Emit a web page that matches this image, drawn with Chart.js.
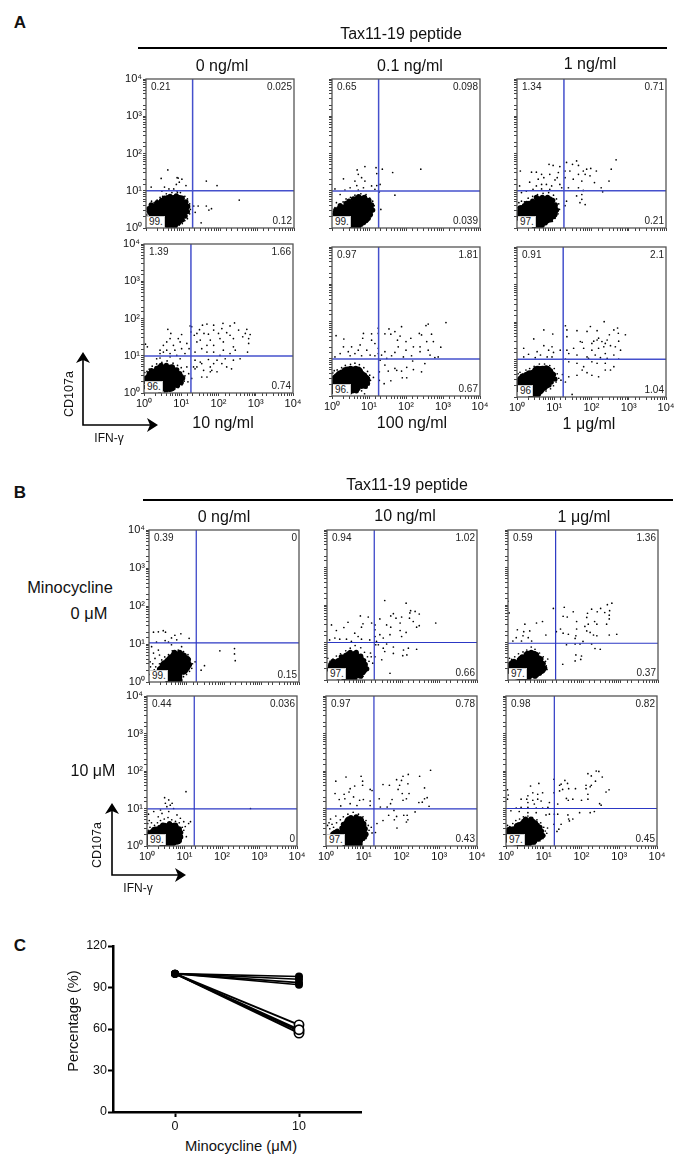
<!DOCTYPE html>
<html>
<head>
<meta charset="utf-8">
<title>CD107a / IFN-γ</title>
<script src="https://cdn.jsdelivr.net/npm/chart.js@4/dist/chart.umd.js"></script>
<style>
  html, body { margin: 0; background: #fff; }
  #page { position: relative; width: 685px; height: 1166px; overflow: hidden; font-family: "Liberation Sans", Arial, sans-serif; color: #111; }
  #page canvas { position: absolute; }
  .t { position: absolute; white-space: nowrap; line-height: 1; }
  .q { position: absolute; white-space: nowrap; font-size: 10px; line-height: 1; color: #222; }
  .ll { background: #fff; padding: 0 1px 0 2px; border: 1px solid #ccc; border-left: 0; border-bottom: 0; }
  .rule { position: absolute; height: 2px; background: #000; }
</style>
</head>
<body>
<div id="page"></div>
<script>
// ---- Data ----
// events are [IFN-g, CD107a] in decades (log10), read off the 10^0..10^4 axes
// xxxCore = solid part of the main population, xxxEdge = its rough rim, xxxDots = single visible events
const a1Core = [[.6,.12],[.75,.12],[.45,.25],[.6,.25],[.75,.25],[.9,.25],[.2,.38],[.35,.38],[.5,.38],[.65,.38],[.8,.38],[.95,.38],[.18,.5],[.3,.5],[.45,.5],[.6,.5],[.75,.5],[.9,.5],[1.02,.5],[.4,.62],[.55,.62],[.7,.62],[.85,.62],[1,.62],[.6,.75],[.75,.75],[.9,.75]];
const a1Edge = [[.1,.42],[.08,.52],[.14,.62],[.24,.6],[.3,.68],[.42,.74],[.5,.8],[.65,.85],[.82,.86],[.98,.8],[1.08,.7],[1.13,.58],[1.12,.44],[1.06,.32],[.98,.22],[.88,.14],[.33,.26],[.2,.28],[.5,.14],[.65,.03],[.78,.04]];
const a1Dots = [[.59,1.56],[.41,1.33],[.84,1.35],[.87,1.34],[.97,1.31],[.9,1.23],[.82,1.17],[1.08,1.14],[.14,1.1],[.5,1.1],[.62,1.05],[.75,1.05],[1.63,1.26],[1.92,1.14],[2.52,.75],[1.63,.59],[1.77,.52],[1.7,.48],[1.29,.59],[1.41,.59],[1.33,.42],[1.49,.14],[.84,.99],[.93,.95],[.43,.99],
  [.05,.3],[.08,.5],[.03,.45],[.1,.62],[.15,.72],[.06,.18],[.12,.24],[.02,.35],[.22,.68],[.3,.75],[.38,.82],[.45,.85],[.55,.92],[.7,.95],[.85,.95],[1.05,.85],[1.12,.78],[1.18,.65],[1.2,.5],[1.18,.38],[1.12,.25],[1.05,.2],[.98,.12],[.9,.08],[.35,.15],[.3,.22],[.42,.06]];

const a2Core = [[.55,.12],[.7,.12],[.3,.25],[.45,.25],[.6,.25],[.75,.25],[.88,.25],[.18,.38],[.32,.38],[.47,.38],[.62,.38],[.77,.38],[.92,.38],[.3,.5],[.45,.5],[.6,.5],[.75,.5],[.9,.5],[1,.5],[.5,.62],[.65,.62],[.8,.62],[.95,.62],[.7,.74],[.85,.74]];
const a2Edge = [[.08,.38],[.1,.48],[.18,.52],[.22,.6],[.38,.66],[.46,.72],[.58,.78],[.72,.84],[.88,.82],[1,.74],[1.07,.62],[1.1,.48],[1.04,.36],[.98,.26],[.84,.14],[.42,.14],[.22,.2],[.6,.04],[.72,.05]];
const a2Dots = [[.89,1.65],[.68,1.56],[.71,1.44],[1.19,1.62],[1.36,1.58],[1.21,1.46],[1.64,1.49],[2.4,1.58],[.31,1.32],[.8,1.35],[.89,1.26],[.62,1.26],[1.3,1.17],[1.21,1.14],[1.07,1.13],[.67,1.14],[.85,1.08],[.49,1.08],[.08,1.05],[.35,1.02],[.71,1.02],[1.28,.97],[1.7,.88],[1.32,.5],[.22,.9],[1.16,1.04],
  [.04,.45],[.03,.32],[.08,.55],[.12,.68],[.2,.62],[.3,.7],[.38,.78],[.5,.82],[.62,.88],[.78,.92],[.92,.9],[1.02,.8],[1.1,.72],[1.14,.6],[1.12,.45],[1.05,.3],[.98,.2],[.9,.12],[.82,.06],[.14,.2],[.08,.14],[.24,.14]];

const a3Core = [[.5,.1],[.62,.1],[.22,.24],[.36,.24],[.5,.24],[.64,.24],[.78,.24],[.1,.36],[.24,.36],[.38,.36],[.52,.36],[.66,.36],[.8,.36],[.94,.36],[.14,.48],[.28,.48],[.42,.48],[.56,.48],[.7,.48],[.84,.48],[.98,.48],[.34,.6],[.48,.6],[.62,.6],[.76,.6],[.9,.6],[.6,.72],[.74,.72],[.86,.72]];
const a3Edge = [[.04,.42],[.04,.32],[.08,.54],[.2,.6],[.26,.66],[.42,.72],[.52,.82],[.68,.82],[.82,.82],[.96,.74],[1.03,.62],[1.06,.48],[1.02,.36],[.9,.22],[.76,.14],[.14,.24],[.36,.14],[.5,.03],[.62,.03]];
const a3Dots = [[2.66,1.83],[1.6,1.8],[1.33,1.76],[2.53,1.58],[1.98,1.6],[1.87,1.58],[1.78,1.53],[2.13,1.53],[1.49,1.71],[1.65,1.68],[1.42,1.53],[1.29,1.53],[1.83,1.44],[1.65,1.44],[1.96,1.4],[1.51,1.31],[2.47,1.26],[2.08,1.22],[1.74,1.26],[1.29,1.35],[2.26,1.08],[2.3,.97],[1.78,1.01],[1.65,1.08],[1.38,1.08],[1.6,.86],[1.74,.9],[1.74,.77],[1.69,.68],[1.83,.63],[1.33,.72],[1.29,.6],
  [.86,1.71],[.97,1.68],[1.15,1.65],[.09,1.53],[.39,1.5],[.52,1.5],[.66,1.44],[.72,1.35],[.88,1.44],[1.11,1.49],[1.08,1.35],[.34,1.23],[.52,1.13],[.66,1.17],[.07,1.13],[.79,1.17],[.93,1.13],[1.15,1.17],[1.2,1.08],[.43,1.04],[.66,1.05],[.88,1.04],[.25,.99],[.12,.95],[.57,1.31],[1.02,1.29],
  [.02,.55],[.05,.68],[.12,.72],[.2,.7],[.3,.8],[.42,.85],[.55,.9],[.7,.93],[.85,.95],[.98,.88],[1.06,.78],[1.12,.65],[1.14,.5],[1.1,.38],[1.02,.26],[.95,.18],[.78,.1],[.4,.06],[.02,.22],[.06,.12]];

const a4Core = [[.32,.16],[.45,.16],[.58,.16],[.71,.16],[.16,.28],[.3,.28],[.44,.28],[.58,.28],[.72,.28],[.86,.28],[.16,.4],[.3,.4],[.44,.4],[.58,.4],[.72,.4],[.86,.4],[.95,.4],[.26,.52],[.4,.52],[.54,.52],[.68,.52],[.82,.52],[.44,.63],[.58,.63],[.72,.63]];
const a4Edge = [[.05,.3],[.06,.4],[.14,.52],[.2,.6],[.34,.66],[.46,.74],[.6,.74],[.76,.7],[.88,.62],[.96,.52],[1.04,.4],[1,.28],[.9,.2],[.78,.14],[.2,.18],[.1,.22],[.42,.08],[.6,.08],[.05,.16]];
const a4Dots = [[1.49,1.7],[1.57,1.82],[1.69,1.85],[1.87,1.82],[2.12,1.87],[2.43,1.88],[2.31,1.8],[2.09,1.73],[1.87,1.69],[1.61,1.6],[1.42,1.6],[1.35,1.55],[1.73,1.58],[2,1.6],[2.22,1.62],[2.54,1.69],[2.76,1.71],[2.85,1.57],[2.72,1.6],[2.65,1.51],[2.81,1.46],[2.4,1.46],[2.31,1.55],[2.04,1.46],[1.78,1.42],[1.51,1.42],[1.42,1.37],[1.28,1.78],[1.24,1.8],[1.26,1.64],[1.69,1.28],[1.87,1.28],[2.13,1.37],[2.4,1.24],[2.81,1.33],[2.78,1.1],[2.45,1.15],[2.13,1.15],[1.87,1.1],[1.55,1.19],[1.37,1.1],[1.69,1.1],[2.04,1.01],[2.31,1.06],
  [1.37,.88],[1.51,.83],[1.73,.9],[1.96,.88],[2.18,.92],[2.4,.88],[2.58,.92],[1.42,.7],[1.55,.79],[1.78,.7],[2.09,.79],[2.22,.7],[2.35,.65],[1.87,.79],[1.6,.61],[1.33,.7],[1.37,.65],[1.78,.57],[1.55,.43],[1.69,.43],[1.96,.57],[1.82,.61],[1.28,.39],[1.15,.7],
  [.64,1.71],[.72,1.6],[.7,1.46],[.61,1.37],[.52,1.28],[.43,1.15],[.52,1.1],[.79,1.28],[.92,1.46],[1.01,1.57],[.97,1.37],[.83,1.15],[1.01,1.19],[1.15,1.33],[1.21,1.19],[.04,1.31],[.09,1.24],[.43,1.06],[.61,1.15],[.7,1.06],[.88,1.01],[1.1,1.06],[.43,.94],[.7,.97],[.97,.92],[.34,.92],
  [.03,.3],[.05,.42],[.02,.55],[.08,.58],[.14,.64],[.22,.72],[.34,.78],[.48,.82],[.62,.86],[.78,.8],[.9,.74],[1,.68],[1.06,.58],[1.1,.46],[1.08,.32],[1.02,.22],[.92,.15],[.82,.1],[.68,.05],[.55,.03],[1.2,.52],[1.18,.3]];

const a5Core = [[.14,.2],[.28,.2],[.42,.2],[.56,.2],[.1,.32],[.24,.32],[.38,.32],[.52,.32],[.66,.32],[.8,.32],[.1,.44],[.24,.44],[.38,.44],[.52,.44],[.66,.44],[.8,.44],[.9,.44],[.22,.55],[.36,.55],[.5,.55],[.64,.55],[.78,.55],[.42,.66],[.56,.66],[.7,.66]];
const a5Edge = [[.04,.2],[.03,.34],[.03,.46],[.12,.54],[.26,.64],[.34,.7],[.5,.74],[.64,.74],[.76,.66],[.88,.56],[.96,.46],[.96,.34],[.9,.26],[.7,.2],[.66,.14],[.34,.12],[.48,.11],[.04,.12]];
const a5Dots = [[3.08,1.97],[2.6,1.93],[2.54,1.89],[1.88,1.86],[1.54,1.8],[1.25,1.82],[1.25,1.68],[1.43,1.67],[1.59,1.66],[1.7,1.73],[1.84,1.61],[1.77,1.5],[2,1.46],[2.13,1.55],[2.36,1.68],[2.42,1.64],[2.69,1.66],[2.56,1.46],[2.74,1.46],[2.94,1.31],[2.38,1.32],[2.2,1.32],[1.79,1.32],[2,1.23],[1.43,1.19],[1.7,1.17],[2.38,1.19],[2.6,1.23],[2.87,1.05],[2.65,1.1],[2.15,1.08],[1.93,1.05],[1.61,1.08],[1.34,1.1],[1.25,1.28],[1.25,1.14],
  [1.3,.96],[1.48,1.01],[2.18,.94],[2.51,.87],[2.78,1.03],[1.52,.67],[1.75,.69],[1.88,.67],[2.02,.77],[2.2,.71],[2.42,.65],[1.9,.49],[2.02,.49],[1.59,.41],[1.41,.33],[1.28,.65],[1.28,.42],[1.43,.83],[1.7,.74],
  [.11,1.62],[.85,1.68],[1.07,1.67],[.83,1.55],[.32,1.53],[1.07,1.5],[1.16,1.41],[.76,1.37],[.53,1.32],[.31,1.32],[.71,1.23],[.44,1.19],[.94,1.23],[.22,1.14],[.62,1.14],[1.03,1.1],[.49,1.08],[.8,1.08],[.08,1.05],[1.16,1.08],
  [.02,.62],[.06,.68],[.14,.7],[.26,.76],[.36,.82],[.5,.85],[.62,.88],[.74,.84],[.86,.76],[.96,.66],[1.02,.56],[1.04,.42],[1,.3],[.94,.22],[.8,.14],[.66,.12],[.5,.06],[1.12,.5],[.88,.06],[.02,.3]];

const a6Core = [[.4,.1],[.52,.1],[.2,.22],[.34,.22],[.48,.22],[.62,.22],[.06,.32],[.2,.34],[.34,.34],[.48,.34],[.62,.34],[.76,.34],[.14,.46],[.28,.46],[.42,.46],[.56,.46],[.7,.46],[.84,.46],[.34,.58],[.48,.58],[.62,.58],[.76,.58],[.9,.58],[.55,.7],[.69,.7],[.8,.7]];
const a6Edge = [[.03,.3],[.05,.42],[.14,.56],[.24,.6],[.42,.66],[.48,.72],[.64,.76],[.78,.78],[.9,.7],[.98,.6],[1.02,.48],[.92,.4],[.86,.32],[.74,.24],[.62,.14],[.28,.12],[.44,.04],[.52,.03],[.02,.2]];
const a6Dots = [[1.3,1.9],[1.34,1.79],[1.97,1.88],[2.34,2.01],[2.7,1.84],[2.6,1.79],[2.72,1.7],[2.91,1.66],[2.15,1.77],[1.88,1.75],[1.61,1.77],[1.34,1.61],[1.7,1.48],[2.01,1.43],[2.15,1.52],[2.28,1.48],[2.42,1.52],[2.33,1.34],[2.51,1.37],[2.64,1.34],[2.73,1.49],[2.19,1.3],[2.01,1.25],[1.79,1.3],[1.52,1.3],[1.34,1.25],[1.39,1.16],[1.61,1.12],[1.88,1.07],[2.1,1.12],[2.37,1.16],[2.6,1.12],[2.78,1.25],[2.42,1.03],[2.24,1.05],[2.73,1.01],[2.19,1.57],[2.37,1.43],[2.06,1.49],[2.48,1.66],[1.75,1.46],
  [1.39,.94],[1.61,.9],[1.92,1.03],[2.01,.94],[2.15,.9],[2.37,.9],[2.6,.81],[2.51,.72],[1.79,.81],[1.75,.72],[1.88,.65],[2.01,.58],[2.19,.54],[2.37,.72],[1.61,.58],[1.39,.54],[1.3,.4],[1.48,.07],[1.3,1.01],
  [.72,1.79],[.96,1.68],[.18,1.3],[.45,1.55],[.72,1.37],[.94,1.34],[.85,1.25],[.54,1.21],[.31,1.14],[.98,1.19],[1.16,1.25],[.63,1.12],[.81,1.07],[.18,1.07],[.49,1.05],[.94,1.07],
  [.02,.5],[.03,.62],[.08,.66],[.16,.62],[.24,.72],[.34,.76],[.46,.82],[.6,.88],[.74,.88],[.88,.84],[1,.76],[1.08,.62],[1.12,.5],[1.05,.4],[.98,.3],[.9,.22],[.78,.16],[.66,.1],[.6,.04],[.3,.08],[.04,.2],[.12,.12],[1.18,.45],[1.22,.6]];

const b1Core = [[.6,.1],[.72,.1],[.48,.22],[.62,.22],[.76,.22],[.36,.33],[.5,.33],[.64,.33],[.78,.33],[.92,.33],[.44,.45],[.58,.45],[.72,.45],[.86,.45],[1,.45],[.58,.57],[.72,.57],[.86,.57],[.98,.57],[.7,.68],[.84,.68],[.62,.03],[.76,.03]];
const b1Edge = [[.28,.34],[.24,.26],[.36,.46],[.48,.56],[.58,.66],[.68,.78],[.82,.78],[.94,.7],[1.04,.6],[1.08,.46],[1.02,.36],[.92,.26],[.82,.14],[.42,.12],[.5,.04],[.82,.06],[.32,.22]];
const b1Dots = [[.12,1.31],[.25,1.32],[.38,1.35],[.44,1.31],[.69,1.23],[.85,1.27],[1.07,1.15],[.2,1.05],[.43,1.09],[.6,1.16],[.74,1.11],[.52,1.05],[1.89,.82],[2.28,.88],[2.28,.74],[2.3,.56],[1.48,.43],[1.39,.31],[1.23,.53],[.07,.93],[.12,.76],[.25,.84],[.6,.98],[.87,.93],[.16,.62],[.28,.71],[.03,.53],[.04,.4],[.03,.2],
  [.1,.48],[.18,.4],[.22,.28],[.14,.32],[.28,.48],[.34,.58],[.42,.66],[.52,.72],[.62,.82],[.78,.84],[.92,.8],[1.04,.72],[1.1,.6],[1.16,.48],[1.14,.36],[1.08,.28],[1,.2],[.92,.14],[.34,.18],[.42,.12]];

const b2Core = [[.52,.08],[.64,.08],[.28,.18],[.42,.18],[.56,.18],[.7,.18],[.84,.18],[.14,.3],[.28,.3],[.42,.3],[.56,.3],[.7,.3],[.84,.3],[.96,.3],[.2,.42],[.34,.42],[.48,.42],[.62,.42],[.76,.42],[.9,.42],[.44,.54],[.58,.54],[.72,.54],[.86,.54],[.6,.64],[.74,.64]];
const b2Edge = [[.06,.28],[.1,.42],[.16,.5],[.3,.52],[.38,.62],[.5,.66],[.62,.74],[.78,.74],[.9,.64],[.98,.52],[1.02,.42],[1.06,.3],[.96,.2],[.9,.1],[.16,.16],[.3,.08],[.44,.06],[.74,.03]];
const b2Dots = [[1.54,2.12],[2.11,2.05],[2.23,1.85],[2.35,1.83],[2.46,1.76],[2.21,1.79],[1.77,1.77],[1.7,1.71],[1.41,1.63],[1.28,1.47],[1.84,1.65],[1.99,1.68],[2.2,1.65],[2.3,1.56],[2.46,1.45],[2.39,1.41],[1.95,1.52],[1.59,1.47],[1.7,1.41],[2.9,1.52],[1.95,1.32],[2.11,1.27],[1.99,1.16],[1.68,1.21],[1.41,1.21],[1.5,1.12],[1.28,1.34],[1.28,1.16],[1.32,1.03],
  [1.59,.96],[1.37,.94],[1.5,.85],[1.77,.88],[2.04,.8],[2.17,.85],[2.39,.82],[1.54,.76],[1.77,.71],[2.13,.67],[2.02,.65],[1.46,.54],[1.68,.18],[1.28,.62],[1.3,.94],
  [.89,1.71],[1.1,1.68],[.56,1.54],[.12,1.47],[.45,1.4],[.96,1.5],[1.19,1.52],[.92,1.41],[.74,1.25],[.25,1.32],[.83,1.16],[.07,1.07],[.21,1.12],[.34,1.09],[.52,1.09],[.92,1.09],[.65,1.03],[1.14,1.07],
  [.04,.38],[.08,.5],[.02,.58],[.16,.56],[.25,.64],[.36,.7],[.5,.78],[.62,.85],[.75,.92],[.9,.86],[1,.74],[1.08,.62],[1.12,.5],[1.06,.38],[1.1,.28],[1,.18],[.96,.1],[.8,.06],[1.18,.62],[1.22,.45],[1.16,.72]];

const b3Core = [[.36,.08],[.48,.08],[.18,.18],[.32,.18],[.46,.18],[.6,.18],[.72,.18],[.06,.29],[.2,.29],[.34,.29],[.48,.29],[.62,.29],[.76,.29],[.88,.29],[.14,.41],[.28,.41],[.42,.41],[.56,.41],[.7,.41],[.84,.41],[.38,.53],[.52,.53],[.66,.53],[.8,.53],[.54,.65],[.68,.65]];
const b3Edge = [[.02,.24],[.06,.4],[.16,.5],[.3,.54],[.38,.62],[.52,.66],[.62,.74],[.76,.68],[.88,.56],[.94,.44],[.98,.32],[.84,.18],[.72,.1],[.1,.16],[.24,.08],[.56,.06],[.02,.34]];
const b3Dots = [[2.77,2.05],[2.65,2.01],[1.5,1.94],[1.21,1.91],[1.74,1.82],[2.23,1.89],[2.47,1.91],[2.38,1.82],[2.58,1.8],[2.71,1.85],[2.12,1.78],[2.7,1.73],[0,2.1],[.03,1.79],[1.47,1.7],[1.58,1.68],[2.1,1.67],[2.7,1.63],[2.31,1.56],[2.37,1.49],[2.14,1.49],[2.63,1.49],[2.05,1.43],[1.83,1.56],[.92,1.56],[.76,1.52],[.45,1.49],[1.4,1.36],[1.83,1.36],[2.1,1.31],[2.19,1.27],[2.7,1.2],[2.9,1.22],[2.37,1.18],[2.28,1.2],[1.47,1.25],[1.61,1.22],[1.81,1.18],[1.79,1.11],[1.01,1.2],[1.29,1.29],[.25,1.34],[.42,1.29],[.58,1.31],[.22,1.13],[.4,1.18],[.54,1.13],[.36,1.04],[.63,1.04],[.13,1.04],
  [1.56,.94],[1.92,.96],[2,1.03],[2.23,.96],[2.32,.84],[2.46,.82],[1.81,.67],[1.96,.64],[1.79,.51],[1.94,.55],[1.46,.42],[1.79,.96],
  [.02,.45],[.04,.58],[.1,.55],[.18,.62],[.28,.7],[.4,.75],[.5,.8],[.62,.88],[.72,.82],[.84,.72],[.94,.62],[1,.5],[1.02,.38],[.98,.26],[.92,.2],[.84,.14],[.72,.08],[.06,.14],[1.06,.56],[1.04,.28]];

const b4Core = [[.5,.07],[.62,.07],[.1,.17],[.24,.17],[.38,.17],[.52,.17],[.66,.17],[.8,.17],[.08,.28],[.22,.28],[.36,.28],[.5,.28],[.64,.28],[.78,.28],[.24,.39],[.38,.39],[.52,.39],[.66,.39],[.8,.39],[.46,.49],[.6,.49],[.72,.49]];
const b4Edge = [[.02,.18],[.02,.3],[.12,.38],[.18,.44],[.34,.5],[.42,.56],[.6,.6],[.76,.56],[.86,.46],[.9,.36],[.9,.24],[.86,.14],[.72,.08],[.2,.09],[.38,.07],[.04,.08]];
const b4Dots = [[1.04,1.45],[.47,1.29],[.58,1.23],[.49,1.14],[.67,1.14],[.53,1.05],[.71,1],[.62,1.09],[2.76,1],[.36,.96],[.18,.92],[.04,.85],[.8,.83],[.4,.87],[.58,.92],[1.02,.52],[1.11,.6],[1.16,.65],[.93,.34],[1.05,.25],[.98,.65],[.89,.74],
  [.03,.42],[.08,.5],[.02,.6],[.12,.62],[.2,.55],[.28,.62],[.36,.68],[.46,.72],[.56,.76],[.66,.7],[.76,.66],[.86,.62],[.94,.5],[.98,.42],[.94,.28],[.9,.18],[.84,.1],[.74,.06],[.02,.1],[.06,.68],[.3,.78]];

const b5Core = [[.56,.07],[.68,.07],[.8,.07],[.26,.18],[.42,.18],[.56,.18],[.7,.18],[.84,.18],[.26,.3],[.42,.3],[.56,.3],[.7,.3],[.84,.3],[.98,.3],[.5,.42],[.64,.42],[.78,.42],[.92,.42],[.54,.54],[.68,.54],[.82,.54],[.94,.54],[.62,.66],[.76,.66],[.88,.66]];
const b5Edge = [[.18,.2],[.18,.32],[.12,.26],[.3,.4],[.42,.48],[.46,.58],[.56,.66],[.66,.76],[.8,.78],[.92,.72],[1,.6],[1.04,.46],[1.06,.32],[.98,.2],[.9,.1],[.34,.1],[.48,.08],[.9,.04]];
const b5Dots = [[2.77,2.02],[2.48,1.86],[2.18,1.91],[2.04,1.86],[1.87,1.77],[2,1.75],[2.17,1.66],[1.95,1.62],[1.91,1.51],[1.68,1.62],[1.51,1.64],[2.61,1.55],[2.2,1.4],[2.02,1.4],[2.68,1.29],[2.61,1.26],[2.55,1.17],[2.46,1.16],[2.73,1.06],[2.13,1.26],[2.04,1.22],[1.75,1.24],[1.41,1.26],[1.71,1.13],[1.62,1.04],[1.44,1.04],
  [1.8,.95],[2.36,.91],[1.66,.82],[1.87,.79],[2.06,.82],[2.15,.82],[1.81,.7],[2.17,.7],[2.13,.64],[1.51,.68],[1.88,.48],[1.31,.36],[1.35,.6],
  [.93,1.86],[.53,1.84],[.26,1.73],[.97,1.73],[.97,1.62],[.64,1.53],[1.17,1.51],[1.22,1.48],[.76,1.6],[.61,1.44],[.24,1.4],[.73,1.31],[.48,1.38],[.35,1.24],[.89,1.22],[.99,1.24],[1.17,1.2],[1.17,1.08],[.82,1.08],[.64,1.13],[.39,1.07],[.5,1.26],
  [.04,.55],[.1,.46],[.08,.62],[.16,.58],[.28,.62],[.38,.7],[.46,.78],[.58,.85],[.72,.9],[.86,.85],[.98,.78],[1.06,.68],[1.12,.55],[1.14,.42],[1.1,.3],[1.06,.2],[.96,.12],[.94,.05],[.4,.1],[.2,.5],[.12,.72],[.26,.8],[1.2,.5],[1.22,.35]];

const b6Core = [[.4,.07],[.52,.07],[.14,.17],[.28,.17],[.42,.17],[.56,.17],[.7,.17],[.06,.28],[.2,.28],[.34,.28],[.48,.28],[.62,.28],[.76,.28],[.88,.28],[.12,.39],[.26,.39],[.4,.39],[.54,.39],[.68,.39],[.82,.39],[.36,.51],[.5,.51],[.64,.51],[.78,.51],[.52,.62],[.66,.62]];
const b6Edge = [[.02,.22],[.02,.34],[.08,.44],[.2,.46],[.28,.54],[.42,.6],[.52,.72],[.66,.72],[.78,.62],[.9,.5],[.94,.4],[.98,.28],[.84,.18],[.74,.1],[.06,.14],[.24,.08],[.62,.06]];
const b6Dots = [[2.17,1.93],[2.39,2],[2.46,1.99],[2.26,1.87],[2.55,1.84],[2.37,1.73],[2.12,1.62],[2.26,1.62],[2.23,1.58],[2.12,1.53],[2.73,1.5],[2.65,1.44],[1.27,1.78],[1.27,1.42],[1.42,1.47],[1.56,1.75],[1.42,1.62],[1.63,1.67],[1.46,1.65],[1.66,1.53],[1.84,1.53],[1.5,1.51],[1.6,1.27],[1.65,1.22],[1.77,1.25],[2,1.22],[2.17,1.25],[2.17,1.38],[2.48,1.13],[2.52,1.09],[1.37,1.12],
  [2.34,.92],[2.23,.89],[1.95,.89],[1.64,.83],[1.66,.72],[1.77,.72],[1.68,.67],[1.37,.85],[1.15,.85],[1.46,.58],[1.4,.45],[1.28,.85],[1.27,.58],[1.35,.39],
  [.87,1.67],[.65,1.6],[.97,1.42],[.04,1.5],[.06,1.36],[.04,1.25],[.84,1.38],[.71,1.42],[.58,1.34],[.4,1.25],[.55,1.25],[.71,1.22],[.84,1.25],[.93,1.2],[1.15,1.16],[.58,1.16],[.75,1.12],[.4,1.03],[.58,1.03],[.8,1.01],[.97,1.01],[1.11,1.03],[.27,1.01],[.13,.94],[.35,.92],[.58,.89],[.8,.89],[1.06,.83],
  [.02,.45],[.04,.55],[.1,.52],[.18,.6],[.26,.68],[.36,.72],[.46,.78],[.58,.8],[.7,.76],[.82,.7],[.92,.62],[1,.5],[1.04,.4],[1.02,.28],[.98,.2],[.9,.14],[.8,.1],[.66,.05],[1.1,.48],[1.08,.34]];

// gates, decades, [IFN-g, CD107a]
const aGates = [[1.26,1],[1.26,.99],[1.26,1],[1.26,.99],[1.26,.99],[1.24,1.01]];
const bGates = [[1.26,1.03],[1.26,1],[1.27,.98],[1.26,.99],[1.27,.99],[1.28,1]];

// quadrant percentages: upper left, upper right, lower left, lower right
const aQuadrants = [['0.21','0.025','99.','0.12'],['0.65','0.098','99.','0.039'],['1.34','0.71','97.','0.21'],['1.39','1.66','96.','0.74'],['0.97','1.81','96.','0.67'],['0.91','2.1','96','1.04']];
const bQuadrants = [['0.39','0','99.','0.15'],['0.94','1.02','97.','0.66'],['0.59','1.36','97.','0.37'],['0.44','0.036','99.','0'],['0.97','0.78','97.','0.43'],['0.98','0.82','97.','0.45']];

const decadeLabels = ['10⁰','10¹','10²','10³','10⁴'];

// panel C
const minocyclineDoses = [0, 10];
const percentTicks = [0, 30, 60, 90, 120];
const keptValues = [98, 96, 93.5, 92];   // filled markers
const lostValues = [59.5, 63, 57, 58.5]; // open markers
const startValue = 100;

// ---- Layout ----
const page = document.getElementById('page');

function addText(txt, x, y, size, opts = {}) {
  const el = document.createElement('div');
  el.className = 't';
  el.textContent = txt;
  el.style.left = x + 'px';
  el.style.top = y + 'px';
  el.style.fontSize = size + 'px';
  if (opts.bold) el.style.fontWeight = 'bold';
  // x,y is the middle of the text
  el.style.transform = 'translate(-50%,-50%)' + (opts.rotate ? ' rotate(-90deg)' : '');
  page.appendChild(el);
}

function addQuadrant(txt, css, cls) {
  const el = document.createElement('div');
  el.className = cls;
  el.textContent = txt;
  Object.assign(el.style, css);
  page.appendChild(el);
}

const framePlugin = {
  id: 'frame',
  afterDatasetsDraw(chart) {
    const { ctx, chartArea: a } = chart;
    ctx.save();
    ctx.strokeStyle = '#555';
    ctx.lineWidth = 1.3;
    ctx.strokeRect(a.left, a.top, a.right - a.left, a.bottom - a.top);
    ctx.restore();
  }
};

// scale box sizes are fixed so the plot area lands where asked
function makeCanvas(rect, pad) {
  const [l, t, r, b] = rect;
  const c = document.createElement('canvas');
  c.width = r - l + pad.left + pad.right;
  c.height = b - t + pad.top + pad.bottom;
  c.style.left = (l - pad.left) + 'px';
  c.style.top = (t - pad.top) + 'px';
  c.style.width = c.width + 'px';
  c.style.height = c.height + 'px';
  page.appendChild(c);
  return c;
}

function logAxis(showLabels, boxSize, horizontal) {
  return {
    type: 'logarithmic',
    min: 1,
    max: 10000,
    grid: { drawOnChartArea: false, drawTicks: true, tickLength: 3, tickColor: '#111', tickWidth: 0.8 },
    border: { display: false },
    ticks: {
      autoSkip: false,
      maxRotation: 0,
      padding: 1,
      color: '#111',
      font: { family: 'Liberation Sans', size: 11 },
      callback: v => {
        const i = [1, 10, 100, 1000, 10000].indexOf(v);
        return showLabels && i >= 0 ? decadeLabels[i] : '';
      }
    },
    afterFit: s => { if (horizontal) s.height = boxSize; else s.width = boxSize; }
  };
}

function flowPanel(rect, core, edge, dots, gate, quad, showX, showY, gateColor, gateWidth) {
  const pad = { left: 34, right: 16, top: 10, bottom: 24 };
  const canvas = makeCanvas(rect, pad);
  const toEvent = ([x, y]) => ({ x: 10 ** x, y: 10 ** y });
  new Chart(canvas, {
    type: 'scatter',
    data: {
      datasets: [
        { data: [{ x: 10 ** gate[0], y: 1 }, { x: 10 ** gate[0], y: 10000 }], showLine: true, pointRadius: 0, borderColor: gateColor, borderWidth: gateWidth },
        { data: [{ x: 1, y: 10 ** gate[1] }, { x: 10000, y: 10 ** gate[1] }], showLine: true, pointRadius: 0, borderColor: gateColor, borderWidth: gateWidth },
        { data: dots.map(toEvent), pointRadius: 0.85, pointBorderWidth: 0, pointBackgroundColor: '#000' },
        { data: edge.map(toEvent), pointRadius: 2.6, pointBorderWidth: 0, pointBackgroundColor: '#000' },
        { data: core.map(toEvent), pointRadius: 5, pointBorderWidth: 0, pointBackgroundColor: '#000' }
      ]
    },
    options: {
      responsive: false,
      animation: false,
      events: [],
      layout: { padding: { top: pad.top, right: pad.right } },
      plugins: { legend: { display: false }, tooltip: { enabled: false } },
      scales: { x: logAxis(showX, pad.bottom, true), y: logAxis(showY, pad.left, false) }
    },
    plugins: [framePlugin]
  });

  const [l, t, r, b] = rect;
  addQuadrant(quad[0], { left: (l + 5) + 'px', top: (t + 3) + 'px' }, 'q');
  addQuadrant(quad[1], { right: (685 - r + 2) + 'px', top: (t + 3) + 'px' }, 'q');
  addQuadrant(quad[2], { left: (l + 1) + 'px', top: (b - 12) + 'px' }, 'q ll');
  addQuadrant(quad[3], { right: (685 - r + 2) + 'px', top: (b - 12) + 'px' }, 'q');
}

// ---- Panels A, B ----
const aRects = [[146,79,294,228],[332,79,480,228],[517,79,666,228],[144,244,293,393],[332,247,480,396],[517,247,666,397]];
const bRects = [[149,530,299,682],[327,530,477,680],[508,530,658,680],[147,696,297,846],[326,696,477,846],[506,696,657,846]];
const aCores = [a1Core, a2Core, a3Core, a4Core, a5Core, a6Core];
const aEdges = [a1Edge, a2Edge, a3Edge, a4Edge, a5Edge, a6Edge];
const aDots = [a1Dots, a2Dots, a3Dots, a4Dots, a5Dots, a6Dots];
const bCores = [b1Core, b2Core, b3Core, b4Core, b5Core, b6Core];
const bEdges = [b1Edge, b2Edge, b3Edge, b4Edge, b5Edge, b6Edge];
const bDots = [b1Dots, b2Dots, b3Dots, b4Dots, b5Dots, b6Dots];

aRects.forEach((rect, i) => flowPanel(rect, aCores[i], aEdges[i], aDots[i], aGates[i], aQuadrants[i], i >= 3, i % 3 === 0, '#4450cc', 1.5));
bRects.forEach((rect, i) => flowPanel(rect, bCores[i], bEdges[i], bDots[i], bGates[i], bQuadrants[i], i >= 3, i % 3 === 0, '#2c38c4', 1.2));

// ---- Panel C ----
(function panelC() {
  const pad = { left: 36, right: 12, top: 10, bottom: 24 };
  const canvas = makeCanvas([113, 946, 361, 1112], pad);
  const pair = (v) => [{ x: minocyclineDoses[0], y: startValue }, { x: minocyclineDoses[1], y: v }];
  const lost = lostValues.map(v => ({
    data: pair(v), showLine: true, borderColor: '#000', borderWidth: 2,
    pointRadius: [0, 4.6], pointBorderWidth: 1.7, pointBorderColor: '#000', pointBackgroundColor: '#fff'
  }));
  const kept = keptValues.map(v => ({
    data: pair(v), showLine: true, borderColor: '#000', borderWidth: 1.6,
    pointRadius: 4, pointBorderWidth: 0, pointBackgroundColor: '#000'
  }));
  new Chart(canvas, {
    type: 'scatter',
    data: { datasets: [...kept, ...lost] },
    options: {
      responsive: false,
      animation: false,
      events: [],
      layout: { padding: { top: pad.top, right: pad.right } },
      plugins: { legend: { display: false }, tooltip: { enabled: false } },
      scales: {
        x: {
          type: 'linear', min: -5, max: 15,
          afterBuildTicks: s => { s.ticks = minocyclineDoses.map(v => ({ value: v })); },
          afterFit: s => { s.height = pad.bottom; },
          grid: { drawOnChartArea: false, tickLength: 5, tickWidth: 2, tickColor: '#000' },
          border: { color: '#000', width: 2.5 },
          ticks: { color: '#111', padding: 2, font: { family: 'Liberation Sans', size: 12.5 } }
        },
        y: {
          type: 'linear', min: 0, max: 120,
          afterBuildTicks: s => { s.ticks = percentTicks.map(v => ({ value: v })); },
          afterFit: s => { s.width = pad.left; },
          grid: { drawOnChartArea: false, tickLength: 5, tickWidth: 2, tickColor: '#000' },
          border: { color: '#000', width: 2.5 },
          ticks: { color: '#111', padding: 1, font: { family: 'Liberation Sans', size: 12.5 } }
        }
      }
    }
  });
})();

// ---- Text ----
addText('A', 20, 22, 17, { bold: true });
addText('B', 20, 492, 17, { bold: true });
addText('C', 20, 945, 17, { bold: true });

addText('Tax11-19 peptide', 401, 34, 16);
addText('Tax11-19 peptide', 407, 485, 16);

[[138, 48, 529], [143, 500, 530]].forEach(([x, y, w]) => {
  const el = document.createElement('div');
  el.className = 'rule';
  el.style.left = x + 'px';
  el.style.top = (y - 1) + 'px';
  el.style.width = w + 'px';
  page.appendChild(el);
});

addText('0 ng/ml', 222, 66, 16);
addText('0.1 ng/ml', 410, 66, 16);
addText('1 ng/ml', 590, 64, 16);
addText('10 ng/ml', 223, 423, 16);
addText('100 ng/ml', 412, 423, 16);
addText('1 μg/ml', 589, 424, 16);

addText('0 ng/ml', 224, 517, 16);
addText('10 ng/ml', 405, 516, 16);
addText('1 μg/ml', 584, 517, 16);
addText('Minocycline', 70, 587, 16.4);
addText('0 μM', 89, 613, 16.4);
addText('10 μM', 93, 771, 16);

addText('CD107a', 69, 394, 12.5, { rotate: true });
addText('IFN-γ', 109, 438, 12);
addText('CD107a', 97, 845, 12.5, { rotate: true });
addText('IFN-γ', 138, 888, 12);

addText('Percentage (%)', 73, 1021, 14.6, { rotate: true });
addText('Minocycline (μM)', 241, 1146, 14.8);

// gating arrows
const arrows = document.createElementNS('http://www.w3.org/2000/svg', 'svg');
arrows.setAttribute('width', 685);
arrows.setAttribute('height', 1166);
arrows.style.position = 'absolute';
arrows.style.left = 0;
arrows.style.top = 0;
arrows.innerHTML = [[83, 425, 352, 158], [112, 875, 803, 186]].map(([x, y, top, right]) => `
  <path d="M${x} ${top + 8}V${y}H${right - 8}" fill="none" stroke="#000" stroke-width="1.6"/>
  <path d="M${x - 7} ${top + 11}L${x} ${top}L${x + 7} ${top + 11}L${x} ${top + 8}Z"/>
  <path d="M${right - 11} ${y - 7}L${right} ${y}L${right - 11} ${y + 7}L${right - 8} ${y}Z"/>`).join('');
page.appendChild(arrows);
</script>
</body>
</html>
